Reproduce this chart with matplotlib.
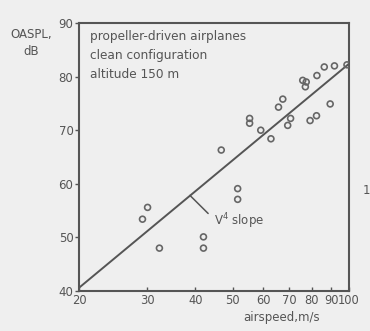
import numpy as np
import matplotlib
matplotlib.use('Agg')
import matplotlib.pyplot as plt
from matplotlib.ticker import FixedLocator, NullLocator, FixedFormatter

# measured points (airspeed m/s, OASPL dB)
airspeed = [29.2, 30.1, 32.3, 42.0, 42.0, 46.7, 51.5, 51.5, 55.3, 55.3,
            59.1, 62.8, 65.7, 67.4, 69.4, 70.6, 75.9, 77.5, 77.1, 79.3,
            82.6, 82.4, 86.3, 89.4, 91.7, 98.8]
oaspl = [53.4, 55.6, 48.0, 50.1, 48.0, 66.3, 59.1, 57.1, 72.2, 71.3,
         70.0, 68.4, 74.3, 75.8, 70.9, 72.2, 79.3, 79.0, 78.1, 71.8,
         80.2, 72.7, 81.8, 74.9, 82.0, 82.2]

# trend line end points
line_v = [20, 100]
line_db = [40.6, 82.4]

xticks = [20, 30, 40, 50, 60, 70, 80, 90, 100]
yticks = [40, 50, 60, 70, 80, 90]

ink = '#555555'
bg = '#efefef'

fig = plt.figure(figsize=(3.70, 3.31), dpi=100, facecolor=bg)
ax = fig.add_axes([0.2135, 0.1208, 0.7297, 0.8097], facecolor=bg)

ax.plot(line_v, line_db, color=ink, lw=1.4, solid_capstyle='butt')
ax.scatter(airspeed, oaspl, s=18, facecolors='none', edgecolors='#666666',
           linewidths=1.2, zorder=3)

ax.set_xscale('log')
ax.set_xlim(20, 100)
ax.set_ylim(40, 90)
ax.xaxis.set_major_locator(FixedLocator(xticks))
ax.xaxis.set_major_formatter(FixedFormatter([str(t) for t in xticks]))
ax.xaxis.set_minor_locator(NullLocator())
ax.yaxis.set_major_locator(FixedLocator(yticks))

for s in ax.spines.values():
    s.set_color(ink)
    s.set_linewidth(1.5)

ax.tick_params(axis='x', direction='in', length=3, width=1, colors=ink,
               labelsize=8.3, pad=2)
ax.tick_params(axis='y', direction='out', length=3, width=1, colors=ink,
               labelsize=8.5, pad=1)

# annotation for slope
ax.annotate('', xy=(38.3, 58.2), xytext=(43.7, 54.1),
            arrowprops=dict(arrowstyle='-', color=ink, lw=1.1))
ax.text(44.6, 53.1, 'V$^4$ slope', color=ink, fontsize=8.5, ha='left',
        va='center')

ax.text(0.04, 0.975, 'propeller-driven airplanes\nclean configuration\naltitude 150 m',
        transform=ax.transAxes, color=ink, fontsize=8.7, ha='left', va='top',
        linespacing=1.6)

fig.text(0.083, 0.869, 'OASPL,\ndB', color=ink, fontsize=8.5, ha='center',
         va='center', linespacing=1.4)
fig.text(0.76, 0.04, 'airspeed,m/s', color=ink, fontsize=8.5, ha='center',
         va='center')
fig.text(0.99, 0.425, '1', color=ink, fontsize=8.5, ha='center', va='center')

fig.savefig('out.png', dpi=100, facecolor=bg)
